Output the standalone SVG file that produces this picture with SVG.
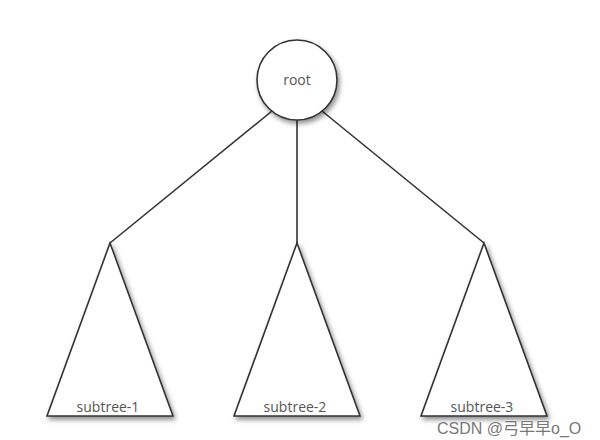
<svg xmlns="http://www.w3.org/2000/svg" width="600" height="440" viewBox="0 0 600 440">
<defs>
<filter id="sh" x="-20%" y="-20%" width="150%" height="150%">
<feGaussianBlur in="SourceAlpha" stdDeviation="2.5"/>
<feOffset dx="2" dy="3" result="b"/>
<feComponentTransfer><feFuncA type="linear" slope="0.45"/></feComponentTransfer>
<feMerge><feMergeNode/><feMergeNode in="SourceGraphic"/></feMerge>
</filter>
</defs>
<style>
.n{fill:#fff;stroke:#333;stroke-width:1.6;filter:url(#sh)}
.c{stroke:#333;stroke-width:1.6;fill:none}
.t{font-family:"Open Sans","Liberation Sans",sans-serif;font-size:14px;fill:#555;text-anchor:middle}
.w{font-family:"Liberation Sans","Noto Sans CJK SC",sans-serif;font-size:16px;fill:#777;stroke:#fff;stroke-width:0.6;paint-order:stroke}
</style>
<rect width="600" height="440" fill="#fff"/>
<g id="connectors">
<line class="c" x1="272" y1="111" x2="110" y2="243"/>
<line class="c" x1="297" y1="120" x2="297" y2="243"/>
<line class="c" x1="322" y1="111" x2="484" y2="243"/>
</g>
<g id="root">
<circle class="n" cx="297" cy="80" r="40"/>
<text class="t" x="297" y="85">root</text>
</g>
<g id="subtree-1">
<polygon class="n" points="110,243 47,416 173,416"/>
<text class="t" x="108" y="412">subtree-1</text>
</g>
<g id="subtree-2">
<polygon class="n" points="297,243 234,416 360,416"/>
<text class="t" x="295" y="412">subtree-2</text>
</g>
<g id="subtree-3">
<polygon class="n" points="484,243 421,416 547,416"/>
<text class="t" x="482" y="412">subtree-3</text>
</g>
<text class="w" x="437" y="434">CSDN @弓早早o_O</text>
</svg>
